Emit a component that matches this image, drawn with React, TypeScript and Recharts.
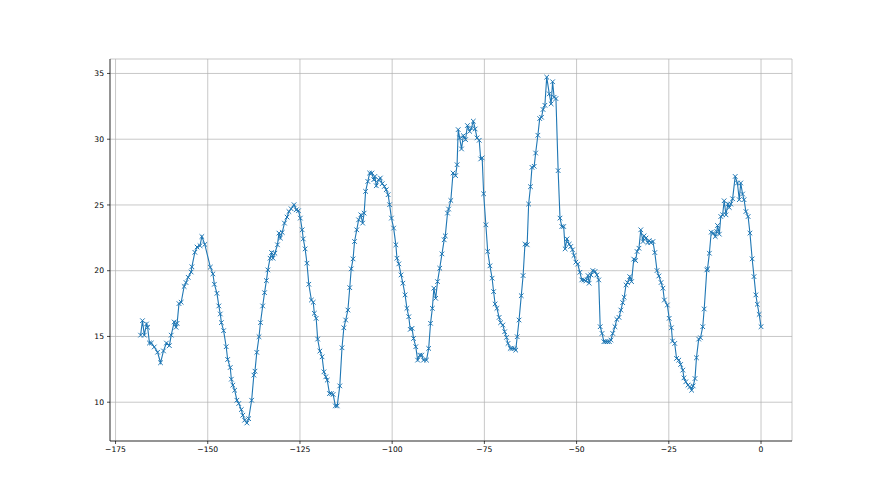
import React from "react";
import {
    LineChart,
    Line,
    XAxis,
    YAxis,
    CartesianGrid,
} from "recharts";

// x positions (hours before now) and readings
const xs = [
    -168.2, -167.7, -167.2, -166.6, -166.3, -165.8, -165.3, -164.5, -163.6, -162.8,
    -162.0, -161.2, -160.4, -159.9, -159.1, -158.6, -158.3, -157.8, -157.2, -156.4,
    -155.9, -155.3, -154.5, -154.3, -153.5, -152.9, -152.1, -151.6, -150.8,
    -149.3, -148.6, -148.2, -147.5, -147.0, -146.6, -146.3, -145.7, -145.0, -144.6,
    -143.9, -143.6, -143.2, -142.7, -142.1, -141.6, -140.9, -140.5, -140.0, -139.4,
    -138.9, -138.1, -137.5, -137.2, -136.7, -136.1, -135.7, -135.1, -134.6, -134.1,
    -133.7, -133.1, -132.7, -132.3, -131.8, -131.1, -130.7, -130.3, -129.8, -129.2,
    -128.5, -128.0,
    -127.4, -126.6, -126.0, -125.4, -124.9, -124.4, -124.1, -123.6, -123.1, -122.6,
    -121.9, -121.4, -121.1, -120.6, -120.2, -119.6, -119.0, -118.5, -118.0, -117.6,
    -117.0, -116.5, -116.0, -115.4, -114.9, -114.2, -113.6, -113.1, -112.6, -112.0,
    -111.5, -111.1, -110.6, -110.2, -109.6, -109.1, -108.5, -108.0, -107.6,
    -107.2, -106.6, -106.1, -105.5, -105.0, -104.7, -104.3, -103.7, -103.2, -102.7,
    -102.1, -101.6, -101.1, -100.7, -100.2, -99.6, -99.0, -98.7, -98.2, -97.6,
    -97.1, -96.5, -96.0, -95.5, -95.1, -94.6, -94.2, -93.6, -93.1, -92.5,
    -92.0, -91.5, -90.7, -90.1, -89.6, -89.1, -88.7, -88.2, -87.7, -87.1,
    -86.5, -85.9, -85.6, -85.0, -84.7, -84.1, -83.5, -82.8, -82.4, -82.1,
    -81.7, -81.2, -80.7, -80.1, -79.6, -79.0, -78.5, -78.0, -77.5, -77.0,
    -76.4, -76.0, -75.6, -75.2, -74.6, -74.1, -73.5, -72.9, -72.5, -72.1,
    -71.6, -71.0, -70.6, -70.0, -69.5, -69.0, -68.6, -68.0, -67.5, -66.9,
    -66.5, -66.1, -65.6, -65.0, -64.5, -64.0, -63.4, -63.0, -62.5, -62.1,
    -61.5, -61.1, -60.5, -60.0, -59.5, -59.1, -58.6, -58.1, -57.4, -56.9,
    -56.5, -56.1, -55.6, -55.0, -54.5, -54.0, -53.5, -53.1, -52.6, -52.0,
    -51.6, -51.1, -50.7, -50.2, -49.7, -49.1, -48.6, -48.0, -47.5, -46.9, -46.6,
    -46.1, -45.6, -45.0, -44.5, -44.0, -43.6, -43.1, -42.6, -42.1, -41.6,
    -41.1, -40.7, -40.2, -39.6, -39.1, -38.5, -38.0, -37.5, -37.1, -36.6,
    -36.2, -35.6, -35.1, -34.5, -34.0, -33.6, -33.1, -32.6, -32.0, -31.7,
    -31.2, -30.7, -30.3, -29.9, -29.3, -28.8, -28.2, -27.7, -27.1, -26.6, -26.2,
    -25.4, -24.9, -24.3, -24.0, -23.4, -22.9, -22.3, -21.8, -21.2, -20.9,
    -20.4, -19.8, -19.3, -18.8, -18.4, -17.9, -17.5, -16.9, -16.4, -15.8,
    -15.4, -14.7, -14.5, -14.0, -13.5, -12.9, -12.4, -12.0, -11.8, -11.3,
    -10.9, -10.4, -10.0, -9.5, -9.0, -8.6, -8.2, -7.7, -7.0, -6.4,
    -5.9, -5.5, -5.0, -4.6, -4.1, -3.5, -3.0, -2.4, -1.9, -1.4,
    -1.0, -0.5, 0.0,
];

const ys = [
    15.1, 16.2, 15.1, 15.95, 15.7, 14.5, 14.5, 14.2, 13.8, 13.0,
    13.9, 14.5, 14.3, 15.1, 16.1, 15.7, 16.0, 17.5, 17.6, 18.8,
    19.1, 19.5, 19.9, 20.3, 21.4, 21.8, 21.9, 22.6, 22.0,
    20.27, 19.76, 18.97, 18.28, 17.32, 16.71, 16.05, 15.44, 14.22, 13.25,
    12.64, 11.75, 11.3, 10.91, 10.15, 9.9, 9.44, 9.01, 8.63, 8.42,
    8.75, 10.15, 12.06, 12.36, 13.79, 14.98, 16.05, 17.32, 18.33, 19.25,
    20.06, 20.95, 21.38, 20.95, 21.33, 21.97, 22.86, 22.48, 22.91, 23.62,
    24.08, 24.5,
    24.71, 25.02, 24.63, 24.56, 24.0, 23.11, 22.42, 21.66, 20.57, 18.97,
    17.77, 17.6, 16.76, 16.38, 14.8, 13.89, 13.45, 12.31, 11.93, 11.68,
    10.66, 10.66, 10.59, 9.72, 9.72, 11.24, 14.14, 15.66, 16.25, 17.01,
    18.71, 20.14, 20.9, 22.22, 23.11, 23.87, 24.25, 23.62, 24.38,
    26.03, 26.79, 27.43, 27.43, 26.92, 27.17, 26.46, 26.92, 27.05, 26.62,
    26.41, 26.16, 25.78, 25.02, 24.0, 23.24, 21.97, 20.95, 20.52, 19.68,
    19.05, 18.16, 17.14, 16.5, 15.54, 15.62, 14.85, 14.22, 13.2, 13.58,
    13.58, 13.2, 13.2, 14.09, 16.0, 17.14, 18.67, 17.9, 19.17, 20.19,
    21.28, 22.35, 22.65, 24.38, 24.69, 25.34, 27.43, 27.23, 28.06, 30.73,
    30.1, 29.26, 30.27, 29.97, 31.04, 30.6, 30.86, 31.37, 30.78, 30.1,
    29.92, 28.5, 28.58, 25.85, 23.49, 21.46, 20.37, 19.43, 18.41, 17.47,
    17.14, 16.45, 16.05, 15.87, 15.36, 14.93, 14.47, 14.09, 14.09, 14.09,
    13.96, 14.98, 16.25, 18.1, 19.63, 22.02, 21.97, 25.07, 26.39, 27.86,
    27.94, 28.95, 30.3, 31.57, 31.67, 32.26, 32.58, 34.72, 33.45, 32.69,
    34.37, 33.19, 33.09, 27.61, 24.0, 23.36, 23.36, 21.66, 22.42, 22.02,
    21.84, 21.59, 21.16, 20.65, 20.5, 19.88, 19.3, 19.3, 19.22, 19.63, 19.05,
    19.68, 20.01, 19.94, 19.68, 19.3, 15.74, 15.23, 14.6, 14.6, 14.6,
    14.6, 14.73, 15.23, 15.74, 16.3, 16.45, 17.01, 17.57, 17.98, 18.92,
    19.1, 19.55, 19.17, 20.88, 20.77, 21.46, 21.71, 23.11, 22.22, 22.65,
    22.48, 22.14, 22.29, 22.14, 22.22, 21.38, 20.01, 19.6, 19.1, 18.67, 17.77,
    17.39, 16.38, 15.66, 14.65, 14.47, 13.33, 13.2, 12.87, 12.44, 11.85,
    11.55, 11.3, 11.17, 10.91, 11.24, 11.8, 13.38, 14.8, 14.9, 15.74,
    17.09, 20.06, 20.14, 21.33, 22.93, 22.86, 22.6, 22.98, 23.44, 22.78,
    24.12, 24.25, 25.32, 24.25, 25.07, 24.81, 25.07, 25.47, 27.17, 26.67,
    25.4, 26.67, 25.83, 25.4, 24.5, 24.12, 22.86, 20.9, 19.55, 18.16,
    17.45, 16.68, 15.74,
];

const xTicks = [-175, -150, -125, -100, -75, -50, -25, 0];
const yTicks = [10, 15, 20, 25, 30, 35];

const data = xs.map((x, i) => ({ x, y: ys[i] }));

const BLUE = "#1f77b4";

// matplotlib uses a real minus sign
const fmt = (v: number) => (v < 0 ? "\u2212" + Math.abs(v) : String(v));

const tickStyle = { fontSize: 7.6, fill: "#000", fontFamily: "DejaVu Sans" };

// 'x' marker
const renderX = (props: any) => {
    const { cx, cy, index } = props;
    if (cx == null || cy == null) return <g key={`m-${index}`} />;
    const r = 2.3;
    return (
        <path
            key={`m-${index}`}
            d={`M${cx - r},${cy - r}L${cx + r},${cy + r}M${cx - r},${cy + r}L${cx + r},${cy - r}`}
            stroke={BLUE}
            strokeWidth={1}
            fill="none"
        />
    );
};

export default function App() {
    return (
        <div style={{ position: "absolute", left: 0, top: 0, width: 880, height: 495, background: "#fff" }}>
            <LineChart
                width={880}
                height={495}
                data={data}
                margin={{ top: 59, right: 88, bottom: 0, left: 0 }}
            >
                <CartesianGrid stroke="#b0b0b0" strokeWidth={0.7} />
                <XAxis
                    dataKey="x"
                    type="number"
                    domain={[-176.5, 8.4]}
                    ticks={xTicks}
                    tickFormatter={fmt}
                    height={54}
                    tick={tickStyle}
                    tickSize={3}
                    tickMargin={3}
                    tickLine={{ stroke: "#000", strokeWidth: 0.7 }}
                    axisLine={{ stroke: "#000", strokeWidth: 0.7 }}
                    allowDataOverflow
                />
                <XAxis
                    xAxisId="top"
                    orientation="top"
                    dataKey="x"
                    type="number"
                    domain={[-176.5, 8.4]}
                    height={0}
                    tick={false}
                    tickLine={false}
                    axisLine={{ stroke: "#000", strokeWidth: 0.7 }}
                    allowDataOverflow
                />
                <YAxis
                    type="number"
                    domain={[7.05, 36.1]}
                    ticks={yTicks}
                    width={110}
                    tick={tickStyle}
                    tickSize={3}
                    tickMargin={3}
                    tickLine={{ stroke: "#000", strokeWidth: 0.7 }}
                    axisLine={{ stroke: "#000", strokeWidth: 0.7 }}
                    allowDataOverflow
                />
                <YAxis
                    yAxisId="right"
                    orientation="right"
                    type="number"
                    domain={[7.05, 36.1]}
                    width={0}
                    tick={false}
                    tickLine={false}
                    axisLine={{ stroke: "#000", strokeWidth: 0.7 }}
                    allowDataOverflow
                />
                <Line
                    type="linear"
                    dataKey="y"
                    stroke={BLUE}
                    strokeWidth={1.1}
                    dot={renderX}
                    activeDot={false}
                    isAnimationActive={false}
                />
            </LineChart>
        </div>
    );
}
